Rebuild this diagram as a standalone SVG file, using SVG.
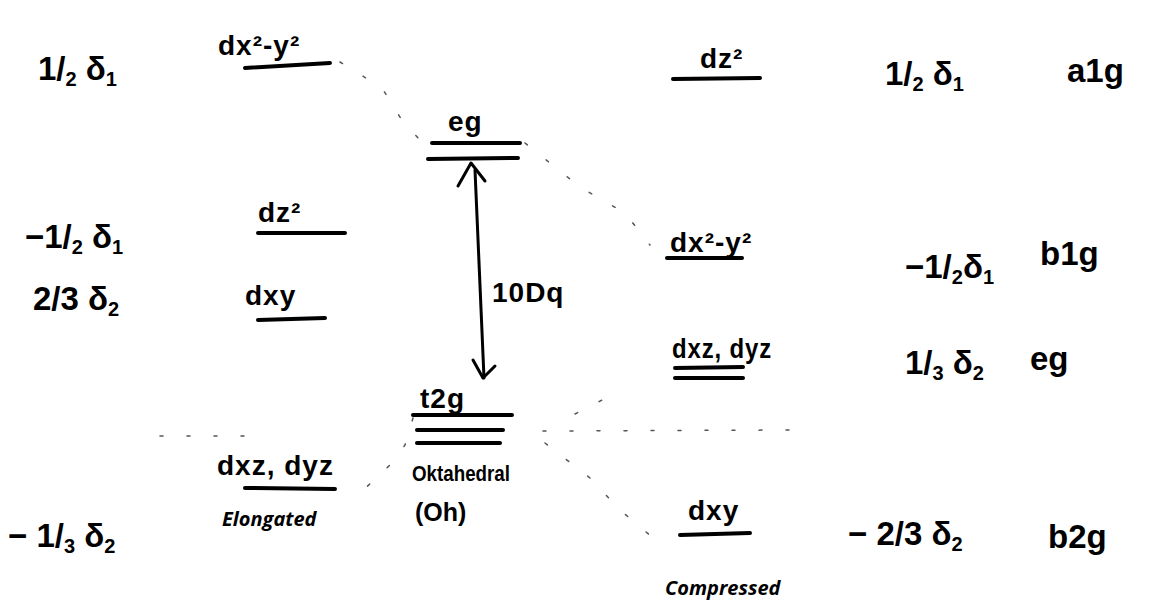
<svg xmlns="http://www.w3.org/2000/svg" width="1162" height="604" viewBox="0 0 1162 604">
<defs>
<style>
.h{font-family:"Liberation Sans","DejaVu Sans",sans-serif;fill:#000;font-weight:bold;}
.big{font-size:33px;}
.lab{font-size:28px;letter-spacing:1px;}
.sub{font-size:20px;}
.cap{font-family:"Open Sans","Liberation Sans",sans-serif;font-weight:bold;font-style:italic;font-size:20px;fill:#000;}
.lvl{stroke:#000;stroke-width:4;stroke-linecap:round;fill:none;}
.arr{stroke:#000;stroke-width:3;fill:none;stroke-linecap:round;stroke-linejoin:round;}
.dash{stroke:#555;stroke-width:1.5;fill:none;stroke-dasharray:3 24;stroke-linecap:round;}
</style>
</defs>
<rect width="1162" height="604" fill="#fff"/>

<g id="connectors">
  <path class="arr" d="M475,170 L484,378"/>
  <path class="arr" d="M458,186 L471,163 L485,181"/>
  <path class="arr" d="M473,360 L483,378 L495,366"/>
  <path class="dash" d="M340,62 L382,88 L403,122 L420,140"/>
  <path class="dash" d="M525,143 L580,187 L625,213 L650,245"/>
  <path class="dash" d="M160,436 L260,436"/>
  <path class="dash" d="M413,418 L405,445 L390,465 L358,495"/>
  <path class="dash" d="M543,431 L790,430"/>
  <path class="dash" d="M545,443 L590,478 L620,510 L652,537"/>
  <path class="dash" d="M575,414 L610,396"/>
</g>

<g id="left-dx2y2">
  <text class="h big" x="38" y="80">1/<tspan class="sub" dy="6">2</tspan><tspan dy="-6"> δ</tspan><tspan class="sub" dy="6">1</tspan></text>
  <text class="h lab" x="218" y="55">dx²-y²</text>
  <path class="lvl" d="M245,68 L330,63"/>
</g>
<g id="left-dz2">
  <text class="h big" x="25" y="248">−1/<tspan class="sub" dy="6">2</tspan><tspan dy="-6"> δ</tspan><tspan class="sub" dy="6">1</tspan></text>
  <text class="h lab" x="258" y="222">dz²</text>
  <path class="lvl" d="M258,233 L345,233"/>
</g>
<g id="left-dxy">
  <text class="h big" x="33" y="310">2/3 δ<tspan class="sub" dy="6">2</tspan></text>
  <text class="h lab" x="245" y="305">dxy</text>
  <path class="lvl" d="M258,320 L325,318"/>
</g>
<g id="left-dxzdyz">
  <text class="h big" x="8" y="547">− 1/<tspan class="sub" dy="6">3</tspan><tspan dy="-6"> δ</tspan><tspan class="sub" dy="6">2</tspan></text>
  <text class="h lab" x="217" y="475" letter-spacing="0">dxz, dyz</text>
  <path class="lvl" d="M245,488 L335,489"/>
  <text class="cap" x="222" y="526">Elongated</text>
</g>

<g id="oh-eg">
  <text class="h lab" x="448" y="131">eg</text>
  <path class="lvl" d="M432,143 L520,143"/>
  <path class="lvl" d="M428,159 L518,158"/>
</g>
<g id="oh-10dq">
  <text class="h lab" x="492" y="302" letter-spacing="0">10Dq</text>
</g>
<g id="oh-t2g">
  <text class="h lab" x="420" y="408">t2g</text>
  <path class="lvl" d="M413,415 L512,415"/>
  <path class="lvl" d="M417,430 L503,430"/>
  <path class="lvl" d="M417,443 L500,443"/>
  <text class="h" font-size="22" x="412" y="481" textLength="98" lengthAdjust="spacingAndGlyphs">Oktahedral</text>
  <text class="h" font-size="25" x="415" y="521">(Oh)</text>
</g>

<g id="right-dz2">
  <text class="h lab" x="700" y="68">dz²</text>
  <path class="lvl" d="M673,79 L760,78"/>
  <text class="h big" x="885" y="85">1/<tspan class="sub" dy="6">2</tspan><tspan dy="-6"> δ</tspan><tspan class="sub" dy="6">1</tspan></text>
  <text class="h big" x="1067" y="82">a1g</text>
</g>
<g id="right-dx2y2">
  <text class="h lab" x="670" y="252">dx²-y²</text>
  <path class="lvl" d="M667,258 L742,258"/>
  <text class="h big" x="905" y="278">−1/<tspan class="sub" dy="6">2</tspan><tspan dy="-6">δ</tspan><tspan class="sub" dy="6">1</tspan></text>
  <text class="h big" x="1040" y="265">b1g</text>
</g>
<g id="right-dxzdyz">
  <text class="h lab" x="672" y="358" letter-spacing="0" textLength="100" lengthAdjust="spacingAndGlyphs">dxz, dyz</text>
  <path class="lvl" d="M675,368 L743,367"/>
  <path class="lvl" d="M675,378 L743,378"/>
  <text class="h big" x="905" y="374">1/<tspan class="sub" dy="6">3</tspan><tspan dy="-6"> δ</tspan><tspan class="sub" dy="6">2</tspan></text>
  <text class="h big" x="1030" y="370">eg</text>
</g>
<g id="right-dxy">
  <text class="h lab" x="688" y="520">dxy</text>
  <path class="lvl" d="M680,535 L750,533"/>
  <text class="h big" x="848" y="545">− 2/3 δ<tspan class="sub" dy="6">2</tspan></text>
  <text class="h big" x="1048" y="548">b2g</text>
  <text class="cap" x="665" y="595">Compressed</text>
</g>
</svg>
